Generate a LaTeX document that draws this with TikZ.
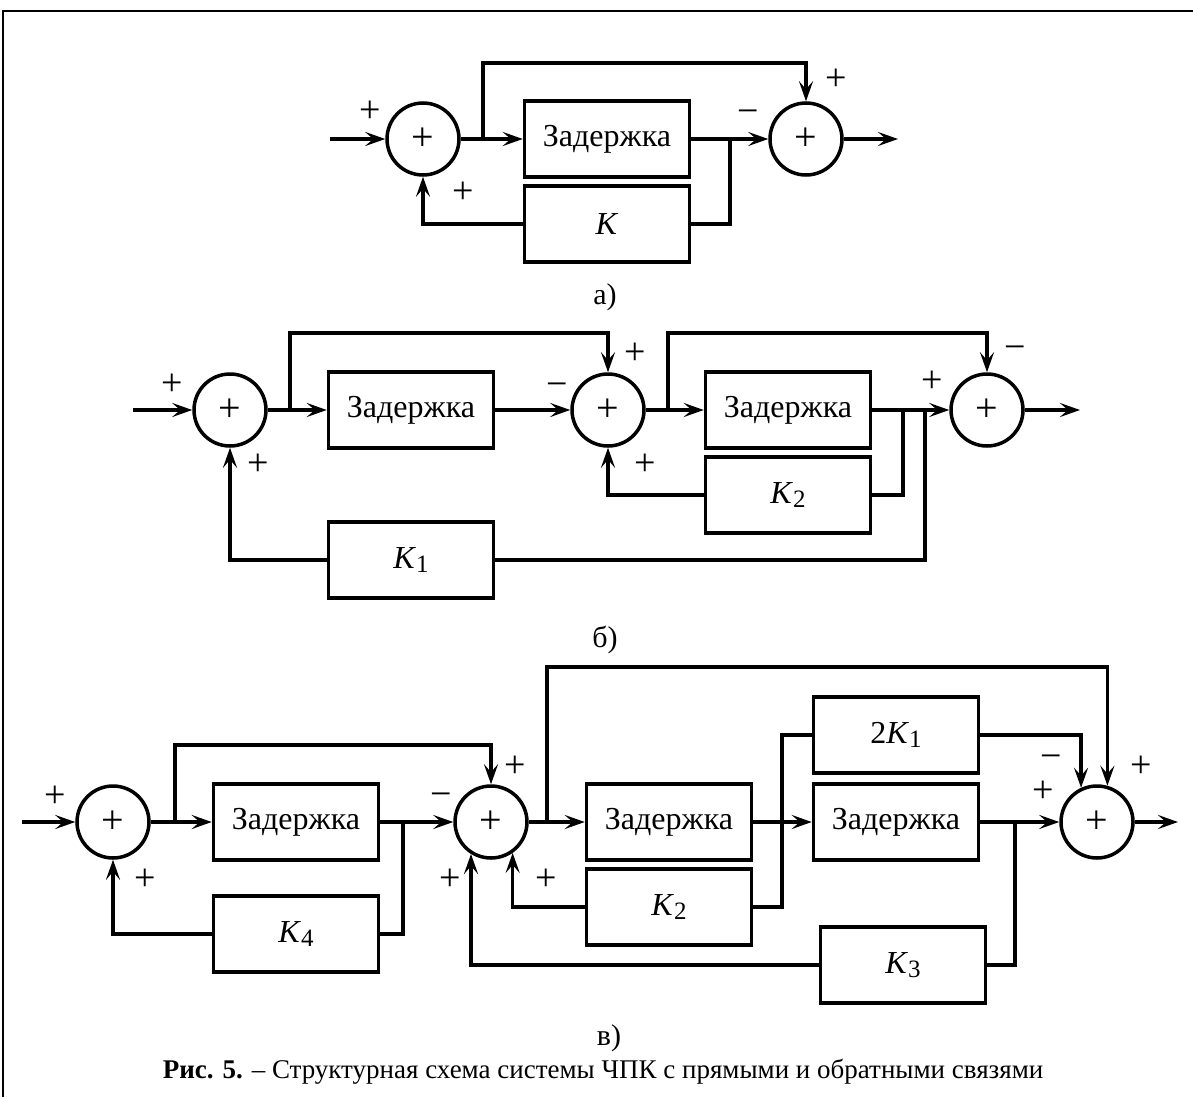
\documentclass[tikz,border=0pt]{standalone}
\usepackage{fontspec}
\setmainfont{Liberation Serif}
\usepackage{tikz}
\usetikzlibrary{arrows.meta, positioning}
\tikzstyle{block} = [rectangle, draw=black, line width=3.5pt, minimum width=165pt, minimum height=76pt, inner sep=0pt, font=\fontsize{32}{34}\selectfont]
\tikzstyle{summer} = [circle, draw=black, line width=3.5pt, minimum size=72pt, inner sep=0pt, font=\fontsize{40}{40}\selectfont]
\tikzstyle{sign} = [inner sep=0pt, font=\fontsize{38}{38}\selectfont]
\tikzstyle{wire} = [line width=3.5pt]
\tikzstyle{arrow} = [line width=3.5pt,->,>={Stealth[length=20pt,width=14pt,inset=8pt]}]
\newcommand{\Kk}[1]{\textit{K}\raisebox{-0.3ex}{\fontsize{25}{25}\selectfont #1}}

\begin{document}
\begin{tikzpicture}[x=1pt, y=-1pt]
\useasboundingbox (0,0) rectangle (1193,1097);

% frame
\draw[line width=2pt] (1193,11) -- (3,11) -- (3,1097);

% ---- a) ----
\node (sumA1) [summer] at (423,139) {+};
\node (sumA2) [summer] at (806,139) {+};
\node (delayA) [block] at (607,139) {Задержка};
\node (gainA) [block] at (607,224) {\textit{K}};
\coordinate (inA) at (330,139);
\coordinate (outA) at (898,139);
\coordinate (brA1) at (483,139);
\coordinate (topA) at (483,63);
\coordinate (brA2) at (730,139);

\draw [arrow] (inA) -- (sumA1);
\draw [arrow] (sumA1) -- (delayA);
\draw [arrow] (brA1) -- (topA) -| (sumA2.north);
\draw [arrow] (delayA) -- (sumA2);
\draw [wire] (brA2) |- (gainA.east);
\draw [arrow] (gainA.west) -| (sumA1.south);
\draw [arrow] (sumA2) -- (outA);

\node (pA1) [sign] at (370,112) {+};
\node (pA2) [sign] at (463,193) {+};
\node (mA1) [sign] at (748,117) {−};
\node (pA3) [sign] at (836,80) {+};
\node (capA) [sign, font=\fontsize{30}{30}\selectfont] at (605,297) {а)};

% ---- b) ----
\node (sumB1) [summer] at (230,410) {+};
\node (sumB2) [summer] at (608,410) {+};
\node (sumB3) [summer] at (987,410) {+};
\node (delayB1) [block] at (411,410) {Задержка};
\node (delayB2) [block] at (788,410) {Задержка};
\node (gainB2) [block] at (788,495) {\Kk{2}};
\node (gainB1) [block] at (411,560) {\Kk{1}};
\coordinate (inB) at (133,410);
\coordinate (outB) at (1080,410);
\coordinate (brB1) at (290,410);
\coordinate (topB1) at (290,333);
\coordinate (brB2) at (668,410);
\coordinate (topB2) at (668,333);
\coordinate (brB3) at (903,410);
\coordinate (brB4) at (925,410);

\draw [arrow] (inB) -- (sumB1);
\draw [arrow] (sumB1) -- (delayB1);
\draw [arrow] (brB1) -- (topB1) -| (sumB2.north);
\draw [arrow] (delayB1) -- (sumB2);
\draw [arrow] (sumB2) -- (delayB2);
\draw [arrow] (brB2) -- (topB2) -| (sumB3.north);
\draw [arrow] (delayB2) -- (sumB3);
\draw [wire] (brB3) |- (gainB2.east);
\draw [wire] (brB4) |- (gainB1.east);
\draw [arrow] (gainB2.west) -| (sumB2.south);
\draw [arrow] (gainB1.west) -| (sumB1.south);
\draw [arrow] (sumB3) -- (outB);

\node (pB1) [sign] at (172,385) {+};
\node (pB2) [sign] at (258,465) {+};
\node (mB1) [sign] at (557,390) {−};
\node (pB3) [sign] at (635,354) {+};
\node (pB4) [sign] at (645,465) {+};
\node (pB5) [sign] at (932,382) {+};
\node (mB2) [sign] at (1015,353) {−};
\node (capB) [sign, font=\fontsize{30}{30}\selectfont] at (605,640) {б)};

% ---- в) ----
\node (sumC1) [summer] at (113,822) {+};
\node (sumC2) [summer] at (491,822) {+};
\node (sumC3) [summer] at (1097,822) {+};
\node (delayC1) [block] at (296,822) {Задержка};
\node (gainC4) [block] at (296,934) {\Kk{4}};
\node (delayC2) [block] at (669,822) {Задержка};
\node (gainC2) [block] at (669,907) {\Kk{2}};
\node (delayC3) [block] at (896,822) {Задержка};
\node (gainC1) [block] at (896,735) {2\Kk{1}};
\node (gainC3) [block] at (903,965) {\Kk{3}};
\coordinate (inC) at (22,822);
\coordinate (outC) at (1178,822);
\coordinate (brC1) at (175,822);
\coordinate (topC1) at (175,745);
\coordinate (brC2) at (403,822);
\coordinate (brC3) at (547,822);
\coordinate (topC3) at (547,667);
\coordinate (brC4) at (1015,822);
\coordinate (upC) at (782,907);

\draw [arrow] (inC) -- (sumC1);
\draw [arrow] (sumC1) -- (delayC1);
\draw [arrow] (brC1) -- (topC1) -| (sumC2.north);
\draw [arrow] (delayC1) -- (sumC2);
\draw [wire] (brC2) |- (gainC4.east);
\draw [arrow] (gainC4.west) -| (sumC1.south);
\draw [arrow] (sumC2) -- (delayC2);
\draw [arrow] (brC3) -- (topC3) -| (sumC3.74);
\draw [arrow] (delayC2) -- (delayC3);
\draw [wire] (gainC2.east) -- (upC) |- (gainC1.west);
\draw [arrow] (gainC1.east) -| (sumC3.115);
\draw [arrow] (delayC3) -- (sumC3);
\draw [wire] (brC4) |- (gainC3.east);
\draw [arrow] (gainC3.west) -| (sumC2.-122);
\draw [arrow] (gainC2.west) -| (sumC2.-55);
\draw [arrow] (sumC3) -- (outC);

\node (pC1) [sign] at (55,797) {+};
\node (pC2) [sign] at (145,880) {+};
\node (mC1) [sign] at (441,800) {−};
\node (pC3) [sign] at (515,767) {+};
\node (pC4) [sign] at (450,880) {+};
\node (pC5) [sign] at (546,880) {+};
\node (mC2) [sign] at (1051,762) {−};
\node (pC6) [sign] at (1043,792) {+};
\node (pC7) [sign] at (1141,767) {+};
\node (capC) [sign, font=\fontsize{30}{30}\selectfont] at (609,1038) {в)};

% caption
\node (caption) [font=\fontsize{27}{30}\selectfont, inner sep=0pt] at (603,1072) {\textbf{Рис. 5.} – Структурная схема системы ЧПК с прямыми и обратными связями};

\end{tikzpicture}
\end{document}
